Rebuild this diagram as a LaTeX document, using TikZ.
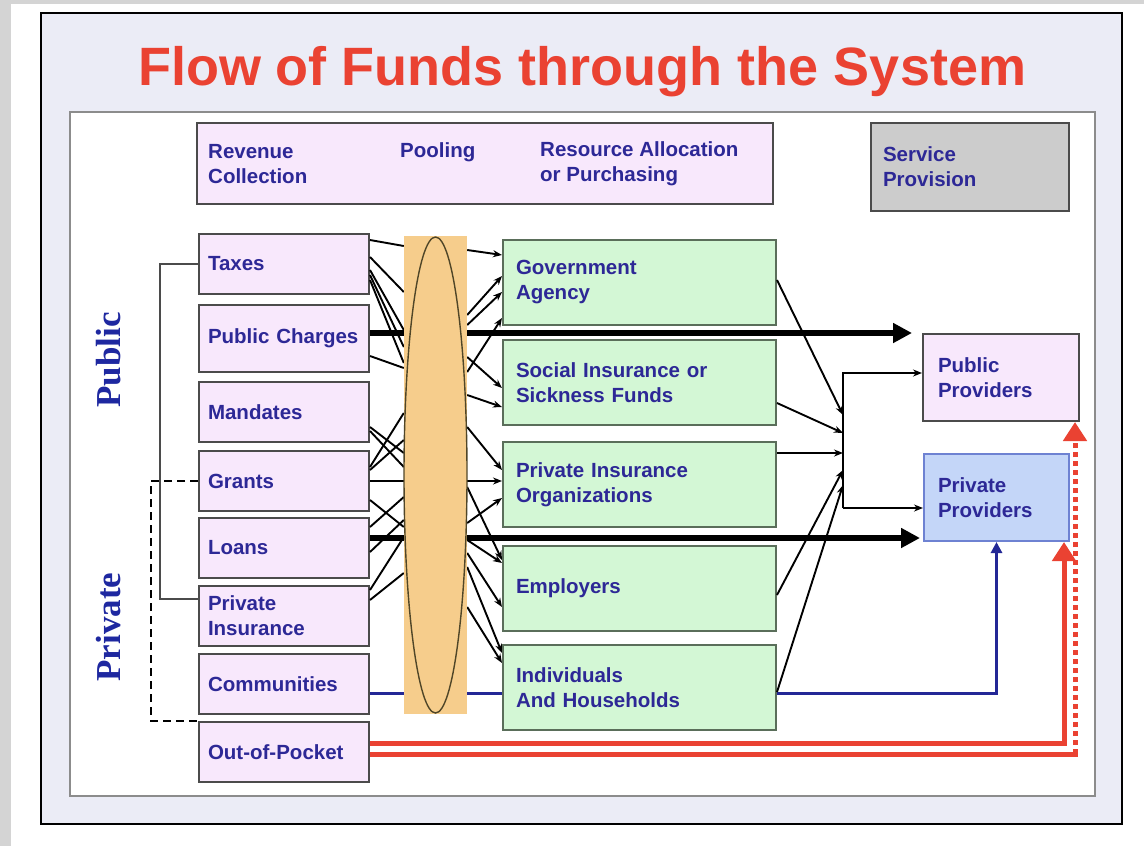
\documentclass[tikz,border=0pt]{standalone}
\usepackage{fontspec}
\setmainfont{Liberation Sans}
\newfontfamily\sideserif{Liberation Serif}
\usetikzlibrary{arrows.meta}
\definecolor{fundred}{RGB}{234, 66, 50}
\definecolor{fundtext}{RGB}{45, 40, 150}
\definecolor{sideblue}{RGB}{30, 40, 160}
\definecolor{slidelav}{RGB}{235, 236, 246}
\definecolor{edgegrey}{RGB}{212, 212, 212}
\definecolor{panelgrey}{RGB}{140, 140, 140}
\definecolor{boxline}{RGB}{75, 75, 75}
\definecolor{greenline}{RGB}{90, 110, 90}
\definecolor{boxpink}{RGB}{248, 232, 252}
\definecolor{boxgreen}{RGB}{211, 247, 213}
\definecolor{boxblue}{RGB}{196, 214, 248}
\definecolor{boxblueline}{RGB}{110, 130, 210}
\definecolor{servgrey}{RGB}{204, 204, 204}
\definecolor{poolorange}{RGB}{246, 205, 140}
\definecolor{rimbrown}{RGB}{80, 70, 40}
\definecolor{commblue}{RGB}{35, 40, 150}
\newcommand{\boxfont}{\fontsize{20.5}{25}\selectfont\bfseries}
\tikzstyle{fundbox} = [
  draw=boxline,
  line width=2pt,
  anchor=north west,
  align=left,
  font=\boxfont,
  text=fundtext,
]
\tikzstyle{srcbox} = [fundbox, fill=boxpink, text width=152pt, inner xsep=9pt, minimum height=60pt]
\tikzstyle{agentbox} = [fundbox, fill=boxgreen, draw=greenline, text width=247pt, inner xsep=13pt, minimum height=85pt]
\tikzstyle{provbox} = [fundbox, minimum height=87pt]
\tikzstyle{steplabel} = [font=\boxfont, text=fundtext, align=left, anchor=west, inner sep=0pt]
\tikzstyle{sidelabel} = [font={\sideserif\fontsize{35}{40}\selectfont\bfseries}, text=sideblue, rotate=90]
\tikzstyle{fundline} = [line width=1.9pt]
\tikzstyle{fundarrow} = [fundline, -{Stealth[length=9pt,width=7pt]}]
\tikzstyle{bigflow} = [line width=6.5pt, -{Triangle[length=19pt,width=19pt]}]
\tikzstyle{redflow} = [draw=fundred, line width=5pt]
\tikzstyle{commflow} = [draw=commblue, line width=3pt]
\tikzstyle{bracketline} = [draw=boxline, line width=1.8pt]

\begin{document}
\begin{tikzpicture}[x=1pt, y=-1pt]
            \useasboundingbox (0,0) rectangle (1144,846);

            % Slide
            \fill[edgegrey] (0,0) rectangle (11,846);
            \fill[edgegrey] (0,0) rectangle (1144,4);
            \draw[fill=slidelav, line width=2.2pt] (41,13) rectangle (1122,824);
            \draw[fill=white, draw=panelgrey, line width=1.8pt] (70,112) rectangle (1095,796);

            \node[font=\fontsize{54}{60}\selectfont\bfseries, text=fundred, anchor=base] (title) at (582,85) {Flow of Funds through the System};

            % Stages
            \node[fundbox, fill=boxpink, minimum width=576pt, minimum height=81pt] (stages) at (196,122) {};
            \node[steplabel] (revenue) at (208,164) {Revenue\\Collection};
            \node[steplabel] (pooling) at (400,152) {Pooling};
            \node[steplabel] (purchasing) at (540,164) {Resource Allocation\\or Purchasing};
            \node[fundbox, fill=servgrey, text width=174pt, inner xsep=12pt, minimum height=88pt] (service) at (870,122) {Service\\Provision};

            \node[sidelabel] (publiclab) at (109,360) {Public};
            \node[sidelabel] (privatelab) at (109,627) {Private};

            % Revenue sources
            \node[srcbox] (taxes) at (198,233) {Taxes};
            \node[srcbox, minimum height=67pt] (charges) at (198,304) {Public Charges};
            \node[srcbox] (mandates) at (198,381) {Mandates};
            \node[srcbox] (grants) at (198,450) {Grants};
            \node[srcbox] (loans) at (198,517) {Loans};
            \node[srcbox] (insurance) at (198,585) {Private\\Insurance};
            \node[srcbox] (communities) at (198,653) {Communities};
            \node[srcbox] (pocket) at (198,721) {Out-of-Pocket};

            % Purchasers
            \node[agentbox] (gov) at (502,239) {Government\\Agency};
            \node[agentbox] (social) at (502,339) {Social Insurance or\\Sickness Funds};
            \node[agentbox] (pio) at (502,441) {Private Insurance\\Organizations};
            \node[agentbox] (employers) at (502,545) {Employers};
            \node[agentbox] (households) at (502,644) {Individuals\\And Households};

            % Providers
            \node[provbox, fill=boxpink, text width=126pt, inner xsep=15pt] (pubprov) at (922,333) {Public\\Providers};
            \node[provbox, fill=boxblue, draw=boxblueline, text width=117pt, inner xsep=14pt] (privprov) at (923,453) {Private\\Providers};

            \node[minimum width=63pt, minimum height=477pt, inner sep=0pt] (pool) at (435.5,475) {};

            % Brackets
            \draw[bracketline] (taxes.west) -- ++(-38,0) |- ([yshift=17pt]insurance.west);
            \draw[bracketline, draw=black, line width=2.6pt, dash pattern=on 8pt off 5pt] (grants.west) -- ++(-47,0) |- (pocket.north west);

            % Into the pool
            \foreach \src/\ya/\yb in {taxes/240/246, taxes/257/292, taxes/270/330, taxes/275/347, taxes/280/363,
                charges/356/368, mandates/427/453, mandates/431/467, grants/467/413, grants/470/440,
                grants/481/481, grants/500/527, loans/527/497, loans/552/520, insurance/590/537, insurance/600/573}
              \draw[fundline] (\src.east |- 0,\ya) -- (pool.west |- 0,\yb);

            % Out of the pool
            \foreach \ya/\dst/\yb in {250/gov/255, 315/gov/276, 325/gov/292, 372/gov/318, 357/social/388,
                395/social/407, 427/pio/470, 481/pio/481, 523/pio/498, 487/employers/560, 540/employers/563,
                553/employers/607, 567/households/653, 607/households/663}
              \draw[fundarrow] (pool.east |- 0,\ya) -- (\dst.west |- 0,\yb);

            % Direct flows
            \draw[bigflow, shorten >=10pt] (charges.east |- 0,333) -- (pubprov.north west);
            \draw[bigflow, shorten >=3pt] (loans.east |- 0,538) -- (privprov.west |- 0,538);

            \draw[commflow] (communities.east |- 0,693) -- (pool.west |- 0,693);
            \draw[commflow] (pool.east |- 0,693) -- (households.west |- 0,693);
            \draw[commflow, -{Triangle[length=11pt,width=11pt]}] (households.east |- 0,693) -| (privprov.south);

            \coordinate (redturn) at (1075,754);
            \draw[redflow, -{Triangle[length=19pt,width=23pt]}] (pocket.east |- 0,743) -| ([xshift=-6pt]privprov.south east);
            \draw[redflow] (pocket.east |- 0,754) -- ([xshift=2.5pt]redturn);
            \draw[redflow, dash pattern=on 5pt off 4pt, -{Triangle[length=19pt,width=23pt]}] (redturn) -- (redturn |- pubprov.south);

            % Purchasers to providers
            \coordinate (hubtop) at (843,373);
            \coordinate (hubbot) at (843,508);
            \draw[fundarrow] (hubbot) -- (hubtop) -- (hubtop -| pubprov.west);
            \draw[fundarrow] (hubbot) -- (hubbot -| privprov.west);
            \foreach \src/\ya/\yb in {gov/280/415, social/403/433, pio/453/453, employers/595/470, households/692/485}
              \draw[fundarrow] (\src.east |- 0,\ya) -- (hubtop |- 0,\yb);

            % Pool drawn over the lines
            \fill[poolorange] (pool.north west) rectangle (pool.south east);
            \draw[line width=1.4pt, draw=rimbrown] (pool.center) ellipse (31.5pt and 238pt);
          \end{tikzpicture}
\end{document}
